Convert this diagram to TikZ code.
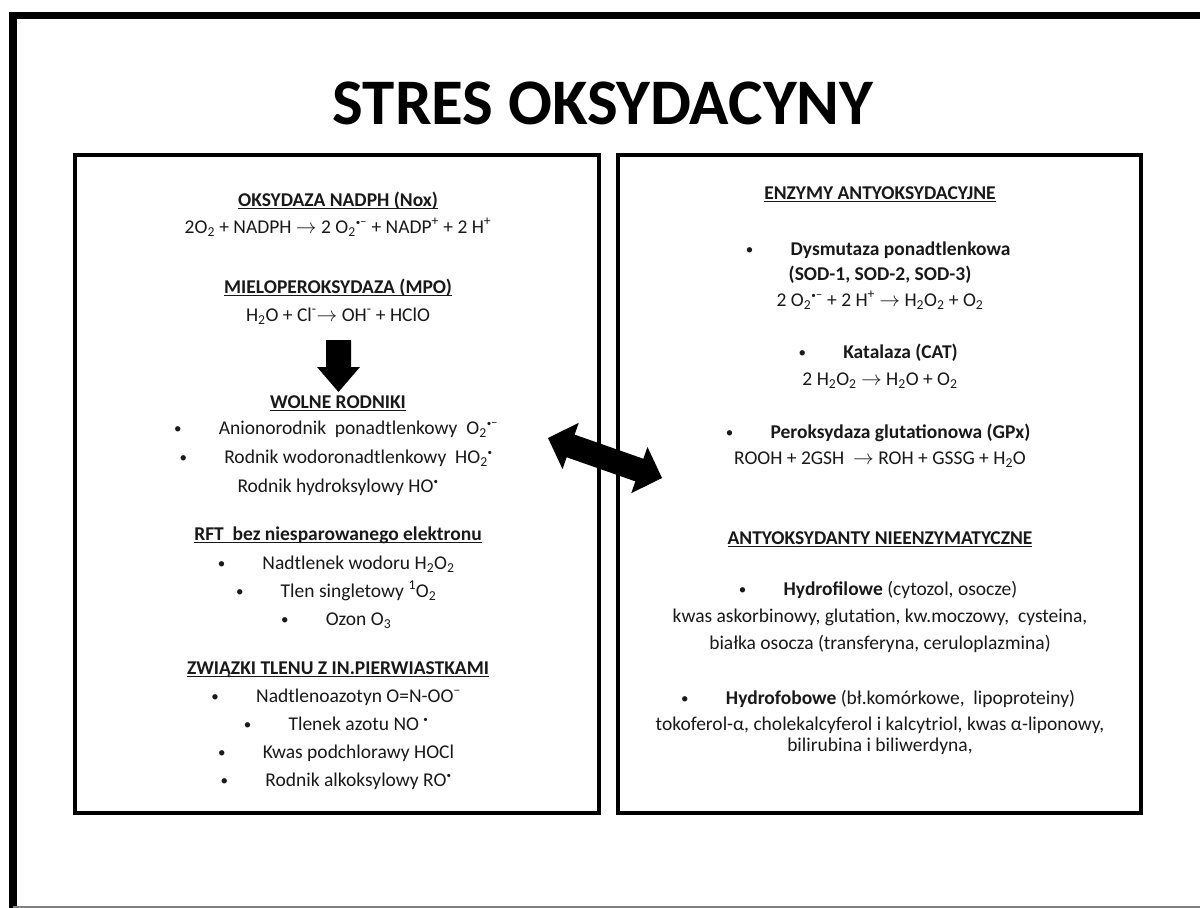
\documentclass[tikz,border=0pt]{standalone}
\usepackage{fontspec}
\setmainfont{Carlito}
\usetikzlibrary{calc}
\newcommand\myul[1]{\setbox0\hbox{#1}\rlap{\rule[-3pt]{\wd0}{1.3pt}}\box0}
\newcommand\bul{\makebox[0pt][c]{\raisebox{0.5pt}{\fontsize{15}{15}\selectfont\textbullet}}\hspace{41pt}}
\newcommand\sbs[1]{\textsubscript{#1}}
\newcommand\sps[1]{\textsuperscript{#1}}
\newcommand\rdot{\textsuperscript{\fontsize{9}{9}\selectfont\textbullet}}
\newcommand\rdotm{\textsuperscript{\fontsize{9}{9}\selectfont\textbullet\fontsize{13}{13}\selectfont–}}
\newcommand\rarr{$\rightarrow$}
\tikzset{
  txt/.style={anchor=base, inner sep=0pt, text=black!90, font=\fontsize{19.5}{23}\selectfont},
  hdr/.style={txt},
  panel/.style={draw, line width=4pt, fill=none, inner sep=0pt},
}
\begin{document}
\begin{tikzpicture}[x=1pt,y=-1pt]
\useasboundingbox (0,0) rectangle (1200,908);
\fill[white] (0,0) rectangle (1200,908);
% frame
\draw[line width=7pt] (9,15.5) -- (1200,15.5);
\draw[line width=8pt] (13,12) -- (13,908);
\draw[gray, line width=1.5pt] (13,907) -- (1200,907);
% title
\node[anchor=base, inner sep=0pt, font=\fontsize{65}{72}\selectfont\bfseries] (title) at (603,124) {STRES OKSYDACYNY};
% panels
\node[panel, minimum width=524pt, minimum height=658pt] (L) at (337,484) {};
\node[panel, minimum width=523pt, minimum height=658pt] (R) at (879.5,484) {};
% left panel text
\node[hdr] (t1) at (338,206) {\myul{\textbf{OKSYDAZA NADPH (Nox)}}};
\node[txt] (e1) at (338,233) {2O\sbs{2} + NADPH \rarr{} 2 O\sbs{2}\rdotm{} + NADP\sps{+} + 2 H\sps{+}};
\node[hdr] (t2) at (338,293) {\myul{\textbf{MIELOPEROKSYDAZA (MPO)}}};
\node[txt] (e2) at (338,321) {H\sbs{2}O + Cl\sps{-}\rarr{} OH\sps{-} + HClO};
\coordinate (dtop) at (338.5,340);
\coordinate (dtip) at (338.5,392);
\fill ($(dtop)+(-12.5,0)$) -- ($(dtop)+(12.5,0)$) -- ($(dtop)+(12.5,27)$) -- ($(dtop)+(21.5,27)$) -- (dtip) -- ($(dtop)+(-21.5,27)$) -- ($(dtop)+(-12.5,27)$) -- cycle;
\node[hdr] (t3) at (338,408) {\myul{\textbf{WOLNE RODNIKI}}};
\node[txt] (l1) at (338,434) {\bul Anionorodnik\ \ ponadtlenkowy\ \ O\sbs{2}\rdotm};
\node[txt] (l2) at (338,463) {\bul Rodnik wodoronadtlenkowy\ \ HO\sbs{2}\rdot};
\node[txt] (l3) at (338,492) {Rodnik hydroksylowy HO\rdot};
\node[hdr] (t4) at (338,540) {\myul{\textbf{RFT\ \ bez niesparowanego elektronu}}};
\node[txt] (l4) at (338,569) {\bul Nadtlenek wodoru\ H\sbs{2}O\sbs{2}};
\node[txt] (l5) at (338,597) {\bul Tlen singletowy \sps{1}O\sbs{2}};
\node[txt] (l6) at (338,625) {\bul Ozon O\sbs{3}};
\node[hdr] (t5) at (338,674) {\myul{\textbf{ZWIĄZKI TLENU Z IN.PIERWIASTKAMI}}};
\node[txt] (l7) at (338,702) {\bul Nadtlenoazotyn\ O=N-OO\sps{–}};
\node[txt] (l8) at (338,730) {\bul Tlenek azotu NO\ \rdot};
\node[txt] (l9) at (338,758) {\bul Kwas podchlorawy HOCl};
\node[txt] (l10) at (338,786) {\bul Rodnik alkoksylowy RO\rdot};
% right panel text
\node[hdr] (r0) at (880,199) {\myul{\textbf{ENZYMY ANTYOKSYDACYJNE}}};
\node[txt] (r1) at (880,255) {\bul\textbf{Dysmutaza ponadtlenkowa}};
\node[txt] (r2) at (880,280) {\textbf{(SOD-1, SOD-2, SOD-3)}};
\node[txt] (r3) at (880,306) {2 O\sbs{2}\rdotm{} + 2 H\sps{+} \rarr{} H\sbs{2}O\sbs{2} + O\sbs{2}};
\node[txt] (r4) at (880,358) {\bul\textbf{Katalaza (CAT)}};
\node[txt] (r5) at (880,385) {2 H\sbs{2}O\sbs{2} \rarr{} H\sbs{2}O + O\sbs{2}};
\node[txt] (r6) at (880,438) {\bul\textbf{Peroksydaza glutationowa (GPx)}};
\node[txt] (r7) at (880,464) {ROOH + 2GSH\ \ \rarr{} ROH + GSSG + H\sbs{2}O};
\node[hdr] (r8) at (880,544) {\myul{\textbf{ANTYOKSYDANTY NIEENZYMATYCZNE}}};
\node[txt] (r9) at (880,595) {\bul\textbf{Hydrofilowe} (cytozol, osocze)};
\node[txt] (r10) at (880,622) {kwas askorbinowy,\ glutation, kw.moczowy,\ \ cysteina,};
\node[txt] (r11) at (880,649) {białka osocza (transferyna, ceruloplazmina)};
\node[txt] (r12) at (880,704) {\bul\textbf{Hydrofobowe} (bł.komórkowe,\ \ lipoproteiny)};
\node[txt] (r13) at (880,730) {tokoferol-α,\ cholekalcyferol i kalcytriol, kwas α-liponowy,};
\node[txt] (r14) at (880,751) {bilirubina i biliwerdyna,};
% double arrow between panels
\coordinate (a1) at (548,438);
\coordinate (a2) at (662,478);
\coordinate (h1) at ($(a1)!24pt!(a2)$);
\coordinate (h2) at ($(a2)!24pt!(a1)$);
\fill (a1) -- ($(h1)!24.5pt!90:(a2)$) -- ($(h1)!12pt!90:(a2)$) -- ($(h2)!12pt!-90:(a1)$) -- ($(h2)!24.5pt!-90:(a1)$) -- (a2)
  -- ($(h2)!24.5pt!90:(a1)$) -- ($(h2)!12pt!90:(a1)$) -- ($(h1)!12pt!-90:(a2)$) -- ($(h1)!24.5pt!-90:(a2)$) -- cycle;
\end{tikzpicture}
\end{document}
